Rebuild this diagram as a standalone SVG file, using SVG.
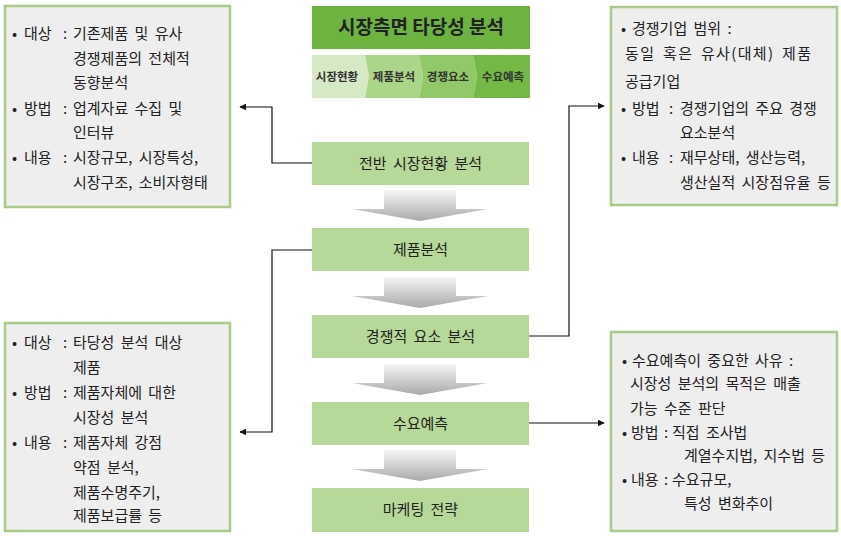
<svg xmlns="http://www.w3.org/2000/svg" width="841" height="536" viewBox="0 0 841 536">
<defs>
<style>
.t{font-family:"Noto Sans CJK KR","Noto Sans",sans-serif;fill:#222;}
.b{font-size:15px;word-spacing:3px;}
.c{font-size:15px;word-spacing:3px;text-anchor:middle;}
.s{font-size:11.5px;text-anchor:middle;font-weight:bold;fill:#333;}
.info{fill:#eeeeee;stroke:#a8cc86;stroke-width:2.5;}
.step{fill:#b6d898;}
.conn{fill:none;stroke:#111;stroke-width:1.2;}
</style>
<linearGradient id="ga" x1="0" y1="0" x2="0" y2="1">
<stop offset="0" stop-color="#f6f6f6"/>
<stop offset="1" stop-color="#a9a9a9"/>
</linearGradient>
<marker id="ah" viewBox="0 0 10 10" refX="9" refY="5" markerWidth="7" markerHeight="7" orient="auto" markerUnits="userSpaceOnUse">
<path d="M0,0 L10,5 L0,10 z" fill="#111"/>
</marker>
<path id="darrow" d="M-36,0 H36 V19 H68 L0,31 L-68,19 H-36 Z" fill="url(#ga)"/>
</defs>
<rect width="841" height="536" fill="#fff"/>

<g id="title">
<rect x="312" y="6" width="218" height="43" fill="#6cb33f"/>
<text class="t" x="421" y="34" font-size="19" font-weight="bold" text-anchor="middle">시장측면 타당성 분석</text>
<path d="M312,55 H365 L369,76.5 L365,98 H312 Z" fill="#d6e9c5"/>
<path d="M365,55 H419 L423,76.5 L419,98 H365 L369,76.5 Z" fill="#abd588"/>
<path d="M419,55 H473 L477,76.5 L473,98 H419 L423,76.5 Z" fill="#92c968"/>
<path d="M473,55 H530 V98 H473 L477,76.5 Z" fill="#74b946"/>
<text class="t s" x="337" y="80.5">시장현황</text>
<text class="t s" x="394" y="80.5">제품분석</text>
<text class="t s" x="448" y="80.5">경쟁요소</text>
<text class="t s" x="503" y="80.5">수요예측</text>
</g>

<g id="step1"><rect class="step" x="312" y="142" width="217" height="43"/><text class="t c" x="420.5" y="168.5">전반 시장현황 분석</text></g>
<g id="step2"><rect class="step" x="312" y="228" width="217" height="43"/><text class="t c" x="420.5" y="254.5">제품분석</text></g>
<g id="step3"><rect class="step" x="312" y="315" width="217" height="43"/><text class="t c" x="420.5" y="341.5">경쟁적 요소 분석</text></g>
<g id="step4"><rect class="step" x="312" y="402" width="217" height="43"/><text class="t c" x="420.5" y="428.5">수요예측</text></g>
<g id="step5"><rect class="step" x="312" y="488" width="217" height="44"/><text class="t c" x="420.5" y="515">마케팅 전략</text></g>

<g id="flow-arrows">
<use href="#darrow" x="420" y="190"/>
<use href="#darrow" x="420" y="277"/>
<use href="#darrow" x="420" y="364"/>
<use href="#darrow" x="420" y="450"/>
</g>

<g id="info1">
<rect class="info" x="5" y="6" width="225" height="201"/>
<text class="t b" y="39"><tspan x="12">•</tspan><tspan x="24">대상</tspan><tspan x="63">:</tspan><tspan x="73">기존제품 및 유사</tspan></text>
<text class="t b" x="73" y="64">경쟁제품의 전체적</text>
<text class="t b" x="73" y="88">동향분석</text>
<text class="t b" y="114"><tspan x="12">•</tspan><tspan x="24">방법</tspan><tspan x="63">:</tspan><tspan x="73">업계자료 수집 및</tspan></text>
<text class="t b" x="73" y="138">인터뷰</text>
<text class="t b" y="163"><tspan x="12">•</tspan><tspan x="24">내용</tspan><tspan x="63">:</tspan><tspan x="73">시장규모, 시장특성,</tspan></text>
<text class="t b" x="73" y="188">시장구조, 소비자형태</text>
</g>

<g id="info2">
<rect class="info" x="611" y="7" width="226" height="198"/>
<text class="t b" y="34"><tspan x="621">•</tspan><tspan x="632">경쟁기업 범위 :</tspan></text>
<text class="t b" x="625" y="59" textLength="186" lengthAdjust="spacing">동일 혹은 유사(대체) 제품</text>
<text class="t b" x="625" y="87">공급기업</text>
<text class="t b" y="114"><tspan x="621">•</tspan><tspan x="632">방법</tspan><tspan x="669">:</tspan><tspan x="680">경쟁기업의 주요 경쟁</tspan></text>
<text class="t b" x="680" y="138">요소분석</text>
<text class="t b" y="163"><tspan x="621">•</tspan><tspan x="632">내용</tspan><tspan x="669">:</tspan><tspan x="680">재무상태, 생산능력,</tspan></text>
<text class="t b" x="680" y="188">생산실적 시장점유율 등</text>
</g>

<g id="info3">
<rect class="info" x="5" y="323" width="225" height="208"/>
<text class="t b" y="348"><tspan x="12">•</tspan><tspan x="24">대상</tspan><tspan x="63">:</tspan><tspan x="73">타당성 분석 대상</tspan></text>
<text class="t b" x="73" y="373">제품</text>
<text class="t b" y="398"><tspan x="12">•</tspan><tspan x="24">방법</tspan><tspan x="63">:</tspan><tspan x="73">제품자체에 대한</tspan></text>
<text class="t b" x="73" y="423">시장성 분석</text>
<text class="t b" y="448"><tspan x="12">•</tspan><tspan x="24">내용</tspan><tspan x="63">:</tspan><tspan x="73">제품자체 강점</tspan></text>
<text class="t b" x="73" y="473">약점 분석,</text>
<text class="t b" x="73" y="498">제품수명주기,</text>
<text class="t b" x="73" y="521">제품보급률 등</text>
</g>

<g id="info4">
<rect class="info" x="611" y="332" width="226" height="199"/>
<text class="t b" y="366"><tspan x="622">•</tspan><tspan x="632">수요예측이 중요한 사유 :</tspan></text>
<text class="t b" x="630" y="389">시장성 분석의 목적은 매출</text>
<text class="t b" x="630" y="414">가능 수준 판단</text>
<text class="t b" y="438"><tspan x="622">•</tspan><tspan x="631">방법</tspan><tspan x="664">:</tspan><tspan x="672">직접 조사법</tspan></text>
<text class="t b" x="684" y="461">계열수지법, 지수법 등</text>
<text class="t b" y="485"><tspan x="622">•</tspan><tspan x="631">내용</tspan><tspan x="664">:</tspan><tspan x="672">수요규모,</tspan></text>
<text class="t b" x="684" y="509">특성 변화추이</text>
</g>

<g id="connectors">
<path class="conn" d="M312,163 H272 V107 H240" marker-end="url(#ah)"/>
<path class="conn" d="M312,250 H272 V432 H240" marker-end="url(#ah)"/>
<path class="conn" d="M529,336 H569 V106 H604" marker-end="url(#ah)"/>
<path class="conn" d="M529,423 H604" marker-end="url(#ah)"/>
</g>
</svg>
